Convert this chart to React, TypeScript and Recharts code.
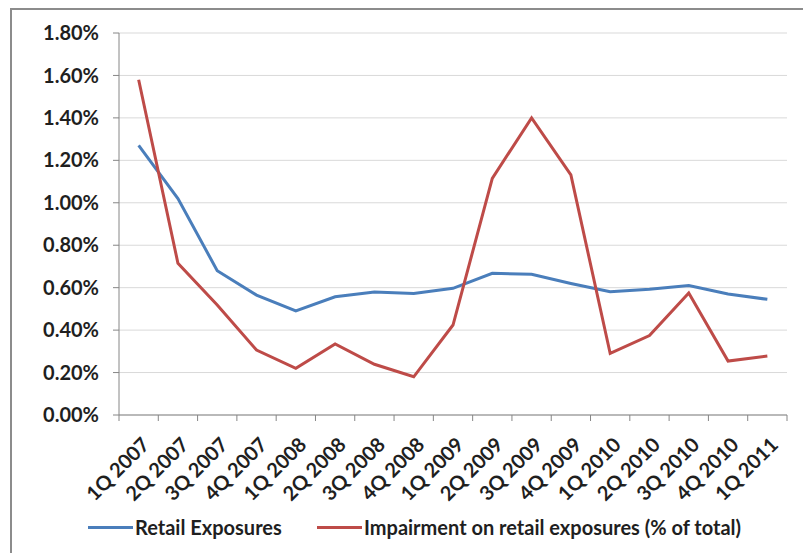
import { LineChart, Line, XAxis, YAxis, CartesianGrid, Legend } from 'recharts'

const quarters = [
  '1Q 2007', '2Q 2007', '3Q 2007', '4Q 2007',
  '1Q 2008', '2Q 2008', '3Q 2008', '4Q 2008',
  '1Q 2009', '2Q 2009', '3Q 2009', '4Q 2009',
  '1Q 2010', '2Q 2010', '3Q 2010', '4Q 2010',
  '1Q 2011',
]

// % values
const retailExposures = [
  1.27, 1.02, 0.68, 0.565, 0.49, 0.557, 0.58, 0.573, 0.597,
  0.668, 0.663, 0.62, 0.581, 0.592, 0.61, 0.57, 0.545,
]
const impairment = [
  1.58, 0.715, 0.518, 0.306, 0.22, 0.335, 0.239, 0.18, 0.424,
  1.115, 1.4, 1.131, 0.29, 0.374, 0.575, 0.254, 0.278,
]

const yTicks = [0, 0.2, 0.4, 0.6, 0.8, 1.0, 1.2, 1.4, 1.6, 1.8]

const data = quarters.map((quarter, i) => ({
  quarter,
  retail: retailExposures[i],
  impairment: impairment[i],
}))

const BLUE = '#4a7ebb'
const RED = '#be4b48'
const AXIS = '#868686'
const TEXT = '#1f1f1f'
const FONT = 'Lato, sans-serif'
const FONT_SIZE = 20

const WIDTH = 803
const HEIGHT = 553
const MARGIN = { top: 33, right: 16, left: 0, bottom: 11 }
const Y_AXIS_WIDTH = 119
const BAND = (WIDTH - MARGIN.right - Y_AXIS_WIDTH) / quarters.length

function QuarterTick(props: any) {
  const { x, y, payload, index } = props
  const last = index === quarters.length - 1
  return (
    <g>
      <line x1={x - BAND / 2} x2={x - BAND / 2} y1={y} y2={y + 6} stroke={AXIS} />
      {last && <line x1={x + BAND / 2} x2={x + BAND / 2} y1={y} y2={y + 6} stroke={AXIS} />}
      <g transform={`translate(${x + 12},${y + 31}) rotate(-45)`}>
        <text textAnchor="end" fill={TEXT} fontSize={FONT_SIZE} fontWeight={700} fontFamily={FONT}>
          {payload.value}
        </text>
      </g>
    </g>
  )
}

function ChartLegend() {
  const item = (color: string, label: string, width?: number) => (
    <div style={{ display: 'flex', alignItems: 'center', width }}>
      <div style={{ width: 45, height: 3, background: color, marginRight: 2 }} />
      <span>{label}</span>
    </div>
  )
  return (
    <div
      style={{
        display: 'flex',
        alignItems: 'center',
        height: 30,
        paddingLeft: 88,
        fontFamily: FONT,
        fontWeight: 700,
        fontSize: FONT_SIZE,
        color: TEXT,
      }}
    >
      {item(BLUE, 'Retail Exposures', 229)}
      {item(RED, 'Impairment on retail exposures (% of total)')}
    </div>
  )
}

export default function App() {
  return (
    <div
      style={{
        position: 'absolute',
        left: 0,
        top: 0,
        width: WIDTH,
        height: HEIGHT,
        overflow: 'hidden',
        background: '#fff',
      }}
    >
      <div
        style={{
          position: 'absolute',
          left: 10,
          top: 8,
          width: 820,
          height: 580,
          border: '2px solid #8c8c8c',
        }}
      />
      <div style={{ position: 'absolute', left: 0, top: 0 }}>
        <LineChart width={WIDTH} height={HEIGHT} data={data} margin={MARGIN}>
          <CartesianGrid vertical={false} stroke="#d9d9d9" />
          <XAxis
            dataKey="quarter"
            scale="band"
            interval={0}
            height={97}
            tickLine={false}
            tickSize={0}
            tickMargin={0}
            axisLine={{ stroke: AXIS }}
            tick={<QuarterTick />}
          />
          <YAxis
            width={Y_AXIS_WIDTH}
            domain={[0, 1.8]}
            ticks={yTicks}
            interval={0}
            tickSize={6}
            tickMargin={14}
            tickLine={{ stroke: AXIS }}
            axisLine={{ stroke: AXIS }}
            tickFormatter={(v: number) => `${v.toFixed(2)}%`}
            tick={{ fill: TEXT, fontSize: FONT_SIZE, fontWeight: 700, fontFamily: FONT }}
          />
          <Legend verticalAlign="bottom" wrapperStyle={{ height: 30 }} content={<ChartLegend />} />
          <Line
            dataKey="retail"
            name="Retail Exposures"
            stroke={BLUE}
            strokeWidth={3}
            dot={false}
            isAnimationActive={false}
          />
          <Line
            dataKey="impairment"
            name="Impairment on retail exposures (% of total)"
            stroke={RED}
            strokeWidth={3}
            dot={false}
            isAnimationActive={false}
          />
        </LineChart>
      </div>
    </div>
  )
}
